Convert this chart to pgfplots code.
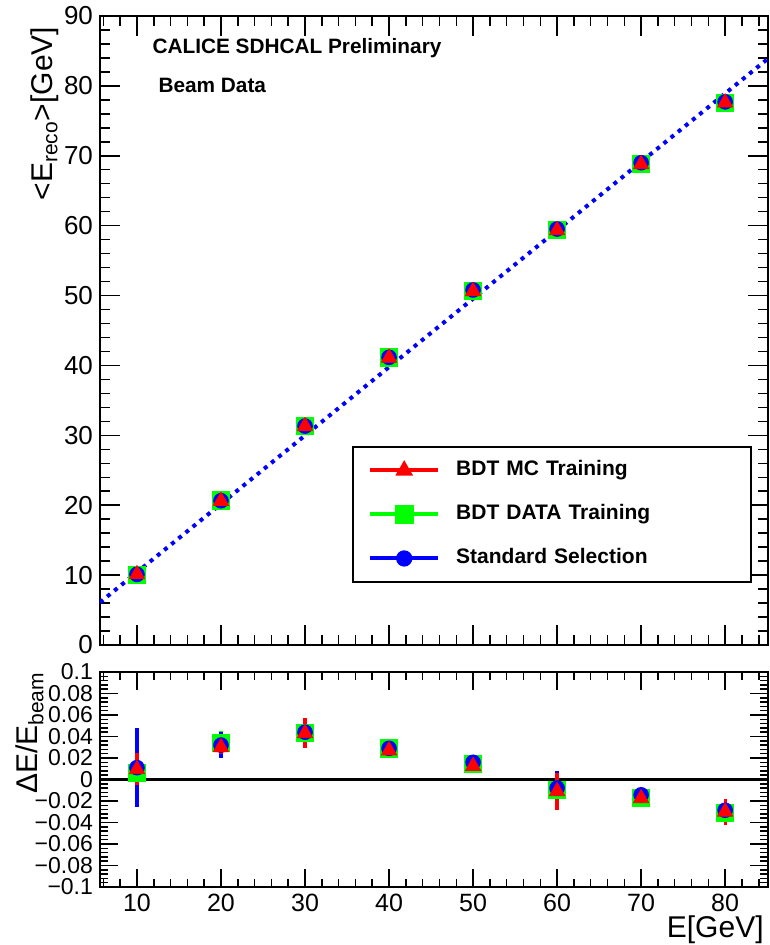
\documentclass[border=0pt]{standalone}
\usepackage{fontspec}
\setmainfont{Liberation Sans}
\usepackage{pgfplots}
\usepackage{pgfplotstable}
\pgfplotsset{compat=1.18}

\definecolor{rootred}{RGB}{255,0,0}
\definecolor{rootgreen}{RGB}{0,255,0}
\definecolor{rootblue}{RGB}{0,0,255}

% mean reconstructed energy
\pgfplotstableread{
E    mc     data   std
10   10.10  10.06  10.10
20   20.60  20.68  20.64
30   31.30  31.30  31.32
40   41.10  41.16  41.16
50   50.62  50.72  50.80
60   59.34  59.43  59.52
70   68.78  68.81  69.00
80   77.60  77.52  77.71
}\reco

% relative deviation with errors
\pgfplotstableread{
E    mc      mcerr  data    dataerr  std     stderr
10   0.0095  0.015  0.006   0.005    0.011   0.037
20   0.030   0.006  0.034   0.011    0.032   0.012
30   0.043   0.014  0.043   0.006    0.044   0.012
40   0.027   0.003  0.029   0.003    0.029   0.003
50   0.0125  0.004  0.0145  0.004    0.016   0.003
60   -0.011  0.017  -0.0095 0.008    -0.008  0.016
70   -0.0175 0.003  -0.017  0.003    -0.0143 0.004
80   -0.030  0.012  -0.031  0.006    -0.0286 0.006
}\resid

\pgfplotsset{
  rootaxis/.style={
    scale only axis, width=334pt,
    xmin=5.6, xmax=85.1,
    xtick={10,20,...,80}, minor xtick={6,8,...,84},
    tick align=inside, tick pos=both,
    axis line style={line width=0.75pt},
    every tick/.style={black, line width=0.75pt},
    major tick length=10pt, minor tick length=5pt,
    /pgf/number format/assume math mode=true,
    label style={font=\fontsize{15}{18}\selectfont},
  },
  sqr/.style={rootgreen, mark=square*, mark size=4.3pt, mark options={draw=rootgreen, fill=rootgreen}},
  cir/.style={rootblue, mark=*, mark size=3.7pt, mark options={draw=rootblue, fill=rootblue}},
  tri/.style={rootred, mark=triangle*, mark size=4.4pt, mark options={draw=rootred, fill=rootred}},
  ebar/.style={error bars/.cd, y dir=both, y explicit, error mark=none,
    error bar style={line width=1.6pt}},
  leg/.style={legend image code/.code={
    \draw[line width=2pt] (0pt,0pt) -- (34pt,0pt);
    \draw[mark repeat=1] plot coordinates {(17pt,0pt)};}},
}

\begin{document}
\begin{tikzpicture}
\begin{axis}[
  rootaxis, name=top,
  height=314.5pt,
  ymin=0, ymax=90,
  ytick={0,10,...,90}, minor ytick={2,4,...,88},
  xticklabels={},
  yticklabel style={font=\fontsize{13}{15}\selectfont},
  ylabel={<E\textsubscript{reco}>[GeV]},
  ylabel style={at={(axis description cs:-0.082,0.994)}, anchor=east},
  legend style={at={(axis description cs:0.976,0.099)}, anchor=south east,
    draw=black, line width=0.75pt, inner xsep=7.5pt, inner ysep=6.5pt,
    row sep=11.5pt,
    font=\bfseries\fontsize{10.5}{12}\selectfont,
    nodes={inner xsep=0pt, inner ysep=0pt, text height=8pt, text depth=2.5pt, text width=140pt, align=left},
    /tikz/every odd column/.append style={column sep=8pt}},
  legend cell align=left,
]
\addplot[rootblue, line width=2pt, dash pattern=on 2pt off 2.6pt, forget plot]
  coordinates {(5.6,6.1) (85.1,83.9)};
\addplot[sqr, only marks, forget plot] table[x=E, y=data] {\reco};
\addplot[cir, only marks, forget plot] table[x=E, y=std] {\reco};
\addplot[tri, only marks, forget plot] table[x=E, y=mc] {\reco};
\addlegendimage{tri, leg}
\addlegendimage{sqr, leg}
\addlegendimage{cir, leg}
\legend{BDT MC Training, BDT DATA Training, Standard Selection}
\node[anchor=west, inner sep=0pt, font=\bfseries\fontsize{10.4}{12}\selectfont]
  at (axis description cs:0.078,0.949) {CALICE SDHCAL Preliminary};
\node[anchor=west, inner sep=0pt, font=\bfseries\fontsize{10.4}{12}\selectfont]
  at (axis description cs:0.087,0.890) {Beam Data};
\end{axis}

\begin{axis}[
  rootaxis,
  at={(top.south west)}, anchor=north west, yshift=-13.5pt,
  height=107.5pt,
  ymin=-0.1, ymax=0.1,
  ytick={-0.1,-0.08,-0.06,-0.04,-0.02,0,0.02,0.04,0.06,0.08,0.1},
  yticklabels={−0.1,−0.08,−0.06,−0.04,−0.02,0,0.02,0.04,0.06,0.08,0.1},
  minor ytick={-0.096,-0.092,-0.088,-0.084,-0.076,-0.072,-0.068,-0.064,-0.056,-0.052,-0.048,-0.044,-0.036,-0.032,-0.028,-0.024,-0.016,-0.012,-0.008,-0.004,0.004,0.008,0.012,0.016,0.024,0.028,0.032,0.036,0.044,0.048,0.052,0.056,0.064,0.068,0.072,0.076,0.084,0.088,0.092,0.096},
  major tick length=9pt, minor tick length=4pt,
  ticklabel style={font=\fontsize{11.5}{14}\selectfont},
  xticklabel style={font=\fontsize{12.5}{15}\selectfont},
  ylabel={ΔE/E\textsubscript{beam}},
  ylabel style={at={(axis description cs:-0.105,1.033)}, anchor=east},
  xlabel={E[GeV]},
  xlabel style={at={(axis description cs:0.994,-0.237)}, anchor=base east, inner sep=0pt},
]
\addplot[black, line width=1.5pt, forget plot] coordinates {(5.6,0) (85.1,0)};
\addplot[sqr, only marks, ebar] table[x=E, y=data, y error=dataerr] {\resid};
\addplot[cir, only marks, ebar] table[x=E, y=std, y error=stderr] {\resid};
\addplot[tri, only marks, ebar] table[x=E, y=mc, y error=mcerr] {\resid};
\end{axis}
\path (top.north west) ++(-50pt,8pt) coordinate (bbA);
\path (top.north west) ++(334.5pt,-464.5pt) coordinate (bbB);
\pgfresetboundingbox
\path (bbA) rectangle (bbB);
\end{tikzpicture}
\end{document}
